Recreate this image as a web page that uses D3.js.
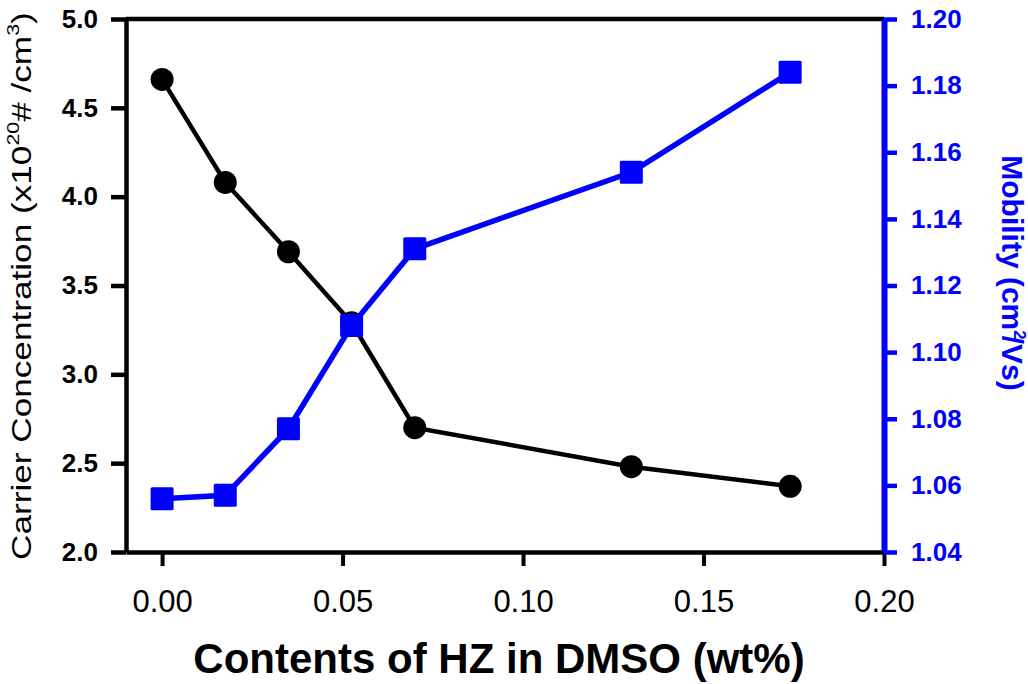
<!DOCTYPE html>
<html>
<head>
<meta charset="utf-8">
<script src="https://cdn.jsdelivr.net/npm/d3@7"></script>
<style>
  body { margin: 0; background: #fff; }
  svg { display: block; font-family: "Liberation Sans", Arial, sans-serif; }
</style>
</head>
<body>
<div id="chart"></div>
<script>
// data
const hzContent = [0, 0.0175, 0.035, 0.0525, 0.07, 0.13, 0.174];
const carrierConc = [4.66, 4.08, 3.69, 3.29, 2.70, 2.48, 2.37];
const mobility = [1.056, 1.057, 1.077, 1.108, 1.131, 1.154, 1.184];

const xTicks = [0, 0.05, 0.10, 0.15, 0.20];
const leftTicks = [2.0, 2.5, 3.0, 3.5, 4.0, 4.5, 5.0];
const rightTicks = [1.04, 1.06, 1.08, 1.10, 1.12, 1.14, 1.16, 1.18, 1.20];

const W = 1028, H = 684;
const margin = { top: 19, right: 144, bottom: 132, left: 126 };
const width = W - margin.left - margin.right;
const height = H - margin.top - margin.bottom;
const BLUE = "#0000ff";

const svg = d3.select("#chart").append("svg")
  .attr("width", W)
  .attr("height", H);

const g = svg.append("g")
  .attr("transform", `translate(${margin.left},${margin.top})`);

// scales
const x = d3.scaleLinear().domain([-0.01, 0.20]).range([0, width]);
const yL = d3.scaleLinear().domain([2.0, 5.0]).range([height, 0]);
const yR = d3.scaleLinear().domain([1.04, 1.20]).range([height, 0]);

// top frame line
g.append("line")
  .attr("x1", 0).attr("x2", width)
  .attr("y1", 0).attr("y2", 0)
  .attr("stroke", "#000").attr("stroke-width", 4.5);

// bottom axis
const xAxisG = g.append("g")
  .attr("transform", `translate(0,${height})`)
  .call(d3.axisBottom(x).tickValues(xTicks).tickFormat(d3.format(".2f"))
    .tickSize(14).tickSizeOuter(0).tickPadding(24));
xAxisG.select(".domain").attr("stroke", "#000").attr("stroke-width", 4.5);
xAxisG.selectAll(".tick line").attr("stroke", "#000").attr("stroke-width", 4);
xAxisG.selectAll("text").attr("font-size", 31).attr("fill", "#000")
  .attr("font-family", "Liberation Sans, Arial, sans-serif");

// left axis
const yLG = g.append("g")
  .call(d3.axisLeft(yL).tickValues(leftTicks).tickFormat(d3.format(".1f"))
    .tickSize(15).tickSizeOuter(0).tickPadding(13));
yLG.select(".domain").attr("stroke", "#000").attr("stroke-width", 4.5);
yLG.selectAll(".tick line").attr("stroke", "#000").attr("stroke-width", 4.5);
yLG.selectAll("text").attr("font-size", 26).attr("font-weight", "bold").attr("fill", "#000")
  .attr("font-family", "Liberation Sans, Arial, sans-serif");

// right axis
const yRG = g.append("g")
  .attr("transform", `translate(${width},0)`)
  .call(d3.axisRight(yR).tickValues(rightTicks).tickFormat(d3.format(".2f"))
    .tickSize(13).tickSizeOuter(0).tickPadding(14));
yRG.select(".domain").attr("stroke", BLUE).attr("stroke-width", 6);
yRG.selectAll(".tick line").attr("stroke", BLUE).attr("stroke-width", 4.5);
yRG.selectAll("text").attr("font-size", 26).attr("font-weight", "bold").attr("fill", BLUE)
  .attr("font-family", "Liberation Sans, Arial, sans-serif");

// carrier concentration series
const carrierPts = hzContent.map((d, i) => ({ x: d, y: carrierConc[i] }));
g.append("path")
  .datum(carrierPts)
  .attr("fill", "none")
  .attr("stroke", "#000")
  .attr("stroke-width", 4.5)
  .attr("d", d3.line().x(d => x(d.x)).y(d => yL(d.y)));
g.selectAll(".circ")
  .data(carrierPts)
  .enter().append("circle")
  .attr("class", "circ")
  .attr("cx", d => x(d.x))
  .attr("cy", d => yL(d.y))
  .attr("r", 11.5)
  .attr("fill", "#000");

// mobility series
const mobPts = hzContent.map((d, i) => ({ x: d, y: mobility[i] }));
g.append("path")
  .datum(mobPts)
  .attr("fill", "none")
  .attr("stroke", BLUE)
  .attr("stroke-width", 5.5)
  .attr("d", d3.line().x(d => x(d.x)).y(d => yR(d.y)));
const sq = 23;
g.selectAll(".sq")
  .data(mobPts)
  .enter().append("rect")
  .attr("class", "sq")
  .attr("x", d => x(d.x) - sq / 2)
  .attr("y", d => yR(d.y) - sq / 2)
  .attr("width", sq)
  .attr("height", sq)
  .attr("rx", 1.5)
  .attr("fill", BLUE);

// x title
svg.append("text")
  .attr("x", 499).attr("y", 673)
  .attr("text-anchor", "middle")
  .attr("font-size", 42)
  .attr("font-weight", "bold")
  .attr("fill", "#000")
  .text("Contents of HZ in DMSO (wt%)");

// left title (stretched along its length like the original)
const lt = svg.append("text")
  .attr("text-anchor", "start")
  .attr("font-size", 28)
  .attr("fill", "#000");
lt.append("tspan").text("Carrier Concentration (x10");
lt.append("tspan").attr("font-size", 17).attr("dy", -12).text("20");
lt.append("tspan").attr("dy", 12).text("# /cm");
lt.append("tspan").attr("font-size", 17).attr("dy", -12).text("3");
lt.append("tspan").attr("dy", 12).text(")");
const ltLen = lt.node().getComputedTextLength();
const ltTarget = 548;
lt.attr("transform", `translate(31,560) rotate(-90) scale(${ltTarget / ltLen},1)`);

// right title
const rt = svg.append("text")
  .attr("text-anchor", "middle")
  .attr("font-size", 30)
  .attr("font-weight", "bold")
  .attr("fill", BLUE)
  .attr("transform", "translate(1002,273) rotate(90)");
rt.append("tspan").text("Mobility (cm");
rt.append("tspan").attr("font-size", 17).attr("dy", -12).text("2");
rt.append("tspan").attr("dy", 12).attr("dx", -4).text("/Vs)");
</script>
</body>
</html>
